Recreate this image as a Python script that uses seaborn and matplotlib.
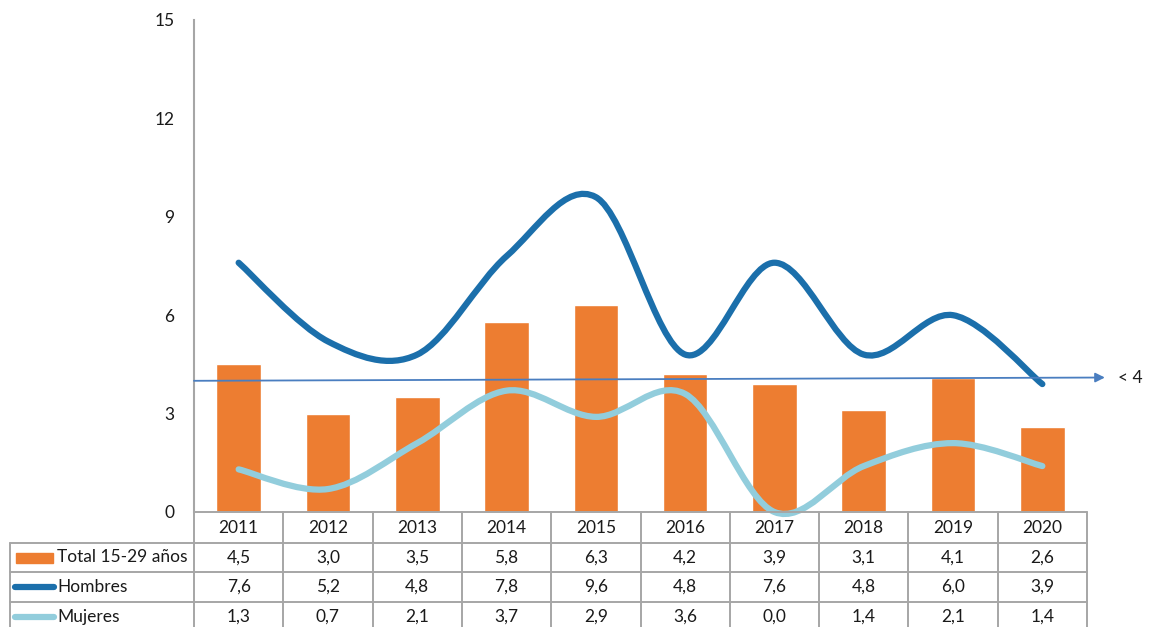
import numpy as np
import pandas as pd
import matplotlib
matplotlib.use("Agg")
import matplotlib.pyplot as plt
from matplotlib.path import Path
from matplotlib.patches import PathPatch
import seaborn as sns

years = ["2011", "2012", "2013", "2014", "2015", "2016", "2017", "2018", "2019", "2020"]
total = [4.5, 3.0, 3.5, 5.8, 6.3, 4.2, 3.9, 3.1, 4.1, 2.6]
hombres = [7.6, 5.2, 4.8, 7.8, 9.6, 4.8, 7.6, 4.8, 6.0, 3.9]
mujeres = [1.3, 0.7, 2.1, 3.7, 2.9, 3.6, 0.0, 1.4, 2.1, 1.4]
series_names = ["Total 15-29 años", "Hombres", "Mujeres"]
yticks = [0, 3, 6, 9, 12, 15]
ref_label = "< 4"
ref_start, ref_end = 4.0, 4.1

C_ORANGE = "#ED7D31"
C_DARK = "#1B6FAB"
C_LIGHT = "#92CDDC"
C_ARROW = "#4A7EC0"
C_GRID = "#A6A6A6"
C_TXT = "#1a1a1a"

sns.set_style("white")
plt.rcParams["font.family"] = ["Lato", "DejaVu Sans"]

W, H = 1149, 627
fig = plt.figure(figsize=(W / 100, H / 100), dpi=100)
L, R, T, B = 194, 1087, 20, 512
ax = fig.add_axes([L / W, 1 - B / H, (R - L) / W, (B - T) / H])

df = pd.DataFrame({"year": years, "value": total})
sns.barplot(data=df, x="year", y="value", color=C_ORANGE, width=0.5,
            saturation=1, ax=ax)
ax.set_xlim(-0.5, len(years) - 0.5)
ax.set_ylim(0, 15)
ax.set_yticks(yticks)
ax.set_yticklabels([str(t) for t in yticks], fontsize=12.5, color=C_TXT)
ax.tick_params(axis="y", length=0, pad=14)
ax.set_xticks([])
ax.set_xlabel("")
ax.set_ylabel("")
for s in ["top", "right", "bottom"]:
    ax.spines[s].set_visible(False)
ax.spines["left"].set_color(C_GRID)
ax.spines["left"].set_linewidth(1.5)


def smooth_path(ys):
    xs = np.arange(len(ys), dtype=float)
    ys = np.asarray(ys, dtype=float)
    pts = np.column_stack([xs, ys])
    verts = [pts[0]]
    codes = [Path.MOVETO]
    n = len(pts)
    for i in range(n - 1):
        p0 = pts[i - 1] if i > 0 else pts[i]
        p1 = pts[i]
        p2 = pts[i + 1]
        p3 = pts[i + 2] if i + 2 < n else pts[i + 1]
        c1 = p1 + (p2 - p0) / 6.0
        c2 = p2 - (p3 - p1) / 6.0
        verts += [c1, c2, p2]
        codes += [Path.CURVE4] * 3
    return Path(verts, codes)


for ys, col in [(hombres, C_DARK), (mujeres, C_LIGHT)]:
    patch = PathPatch(smooth_path(ys), facecolor="none", edgecolor=col,
                      lw=4.5, capstyle="round", joinstyle="round",
                      clip_on=False, zorder=3)
    ax.add_patch(patch)

# reference arrow
ax.annotate("", xy=(len(years) - 0.5 + 0.2, ref_end), xytext=(-0.5, ref_start),
            xycoords="data",
            arrowprops=dict(arrowstyle="-|>", color=C_ARROW, lw=1.3,
                            mutation_scale=14, shrinkA=0, shrinkB=0),
            annotation_clip=False, zorder=4)
ax.text(len(years) - 0.5 + 0.35, ref_end, ref_label, fontsize=12.5,
        va="center", ha="left", color=C_TXT)


# data table below the chart (figure pixel coordinates)
def fx(x):
    return x / W


def fy(y):
    return 1 - y / H


colw = (R - L) / len(years)
row_edges = [512, 543, 572, 602, 632]
lw_t = 1.4
fig.add_artist(plt.Line2D([fx(L), fx(R)], [fy(512), fy(512)], color=C_GRID, lw=lw_t))
for y in row_edges[1:4]:
    fig.add_artist(plt.Line2D([fx(10), fx(R)], [fy(y), fy(y)], color=C_GRID, lw=lw_t))
for i in range(len(years) + 1):
    x = L + i * colw
    fig.add_artist(plt.Line2D([fx(x), fx(x)], [fy(512), fy(H + 5)], color=C_GRID, lw=lw_t))
fig.add_artist(plt.Line2D([fx(10), fx(10)], [fy(543), fy(H + 5)], color=C_GRID, lw=lw_t))

fs = 12.5
for i, yr in enumerate(years):
    cx = L + (i + 0.5) * colw
    fig.text(fx(cx), fy(528), yr, ha="center", va="center", fontsize=fs, color=C_TXT)
    for r, vals in enumerate([total, hombres, mujeres]):
        cy = (row_edges[r + 1] + row_edges[r + 2]) / 2
        fig.text(fx(cx), fy(cy), f"{vals[i]:.1f}".replace(".", ","), ha="center",
                 va="center", fontsize=fs, color=C_TXT)

cy0 = (543 + 572) / 2
fig.add_artist(plt.Rectangle((fx(16), fy(cy0 + 5)), fx(53) - fx(16), fy(cy0 - 5) - fy(cy0 + 5),
                             color=C_ORANGE, transform=fig.transFigure))
for r, col in [(1, C_DARK), (2, C_LIGHT)]:
    cy = (row_edges[r + 1] + row_edges[r + 2]) / 2
    fig.add_artist(plt.Line2D([fx(15), fx(54)], [fy(cy), fy(cy)], color=col, lw=4.5,
                              solid_capstyle="round"))
for r, name in enumerate(series_names):
    cy = (row_edges[r + 1] + row_edges[r + 2]) / 2
    fig.text(fx(57), fy(cy), name, ha="left", va="center", fontsize=fs, color=C_TXT)

fig.savefig("out.png", dpi=100)
